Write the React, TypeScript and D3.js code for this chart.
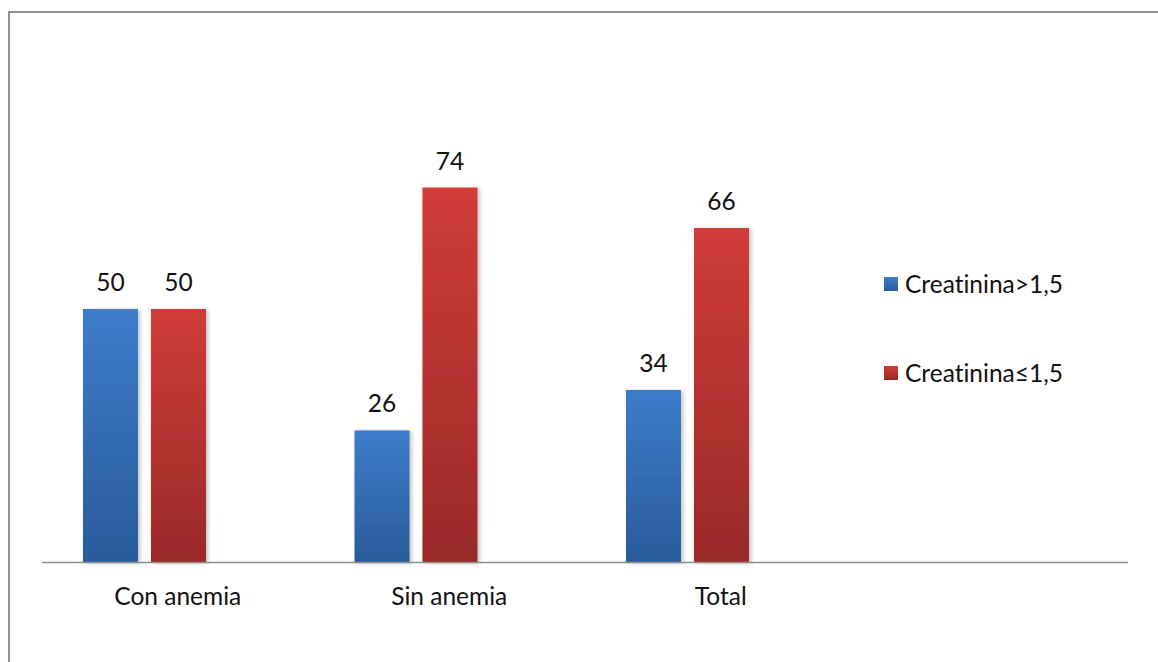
import React, { useEffect, useRef } from "react";
import * as d3 from "d3";

const W = 1158;
const H = 662;

const categories = ["Con anemia", "Sin anemia", "Total"];
const seriesNames = ["Creatinina>1,5", "Creatinina≤1,5"];
const mayor = [50, 26, 34];
const menor = [50, 74, 66];

const FONT = "Lato, 'Open Sans', sans-serif";
const FS = 24.5;
const BASE = 562;

const App = () => {
  const ref = useRef<SVGSVGElement>(null);

  useEffect(() => {
    const svg = d3.select(ref.current);
    svg.selectAll("*").remove();

    const rows = categories.map((c, i) => ({ cat: c, vals: [mayor[i], menor[i]] }));

    const defs = svg.append("defs");
    const grads = [
      { id: "gBlue", top: "#3d7cca", bottom: "#2a5b9a" },
      { id: "gRed", top: "#d03c38", bottom: "#992a28" },
    ];
    grads.forEach((g) => {
      const lg = defs
        .append("linearGradient")
        .attr("id", g.id)
        .attr("x1", 0)
        .attr("y1", 0)
        .attr("x2", 0)
        .attr("y2", 1);
      lg.append("stop").attr("offset", "0%").attr("stop-color", g.top);
      lg.append("stop").attr("offset", "100%").attr("stop-color", g.bottom);
    });
    defs
      .append("filter")
      .attr("id", "shadow")
      .attr("x", "-20%")
      .attr("y", "-10%")
      .attr("width", "150%")
      .attr("height", "130%")
      .append("feDropShadow")
      .attr("dx", 2)
      .attr("dy", 1)
      .attr("stdDeviation", 2)
      .attr("flood-color", "#000")
      .attr("flood-opacity", 0.25);

    // chart frame (top + left edges)
    svg
      .append("path")
      .attr("d", `M9,${H} V12 H${W}`)
      .attr("fill", "none")
      .attr("stroke", "#8f8f8f")
      .attr("stroke-width", 2);

    const x = d3.scaleBand().domain(categories).range([42, 856.5]);
    const inner = d3.scaleBand().domain(["0", "1"]).range([0, 123]).paddingInner(0.19);
    const y = d3.scaleLinear().domain([0, 100]).range([BASE, 56]);
    const fills = ["url(#gBlue)", "url(#gRed)"];

    const txt = (sel: any) =>
      sel
        .attr("font-family", FONT)
        .attr("font-size", FS)
        .attr("fill", "#111")
        .style("font-variant-ligatures", "none");

    const groups = svg
      .selectAll("g.grp")
      .data(rows)
      .enter()
      .append("g")
      .attr("class", "grp")
      .attr("transform", (d) => `translate(${x(d.cat)! + 41},0)`);

    groups
      .selectAll("rect")
      .data((d) => d.vals)
      .enter()
      .append("rect")
      .attr("x", (_, i) => inner(String(i))!)
      .attr("y", (v) => y(v))
      .attr("width", inner.bandwidth())
      .attr("height", (v) => BASE - y(v))
      .attr("fill", (_, i) => fills[i])
      .attr("filter", "url(#shadow)");

    groups
      .selectAll("text")
      .data((d) => d.vals)
      .enter()
      .append("text")
      .attr("x", (_, i) => inner(String(i))! + inner.bandwidth() / 2)
      .attr("y", (v) => y(v) - 18)
      .attr("text-anchor", "middle")
      .call(txt)
      .text((v) => v);

    // axis line
    svg
      .append("line")
      .attr("x1", 42)
      .attr("x2", 1128)
      .attr("y1", BASE + 0.5)
      .attr("y2", BASE + 0.5)
      .attr("stroke", "#8c8c8c")
      .attr("stroke-width", 1.5);

    svg
      .selectAll("text.cat")
      .data(categories)
      .enter()
      .append("text")
      .attr("class", "cat")
      .attr("x", (d) => x(d)! + x.bandwidth() / 2)
      .attr("y", 605)
      .attr("text-anchor", "middle")
      .call(txt)
      .text((d) => d);

    // legend
    const legend = svg
      .selectAll("g.leg")
      .data(seriesNames)
      .enter()
      .append("g")
      .attr("class", "leg")
      .attr("transform", (_, i) => `translate(884,${277 + i * 89})`);
    legend
      .append("rect")
      .attr("width", 14)
      .attr("height", 14)
      .attr("fill", (_, i) => fills[i]);
    legend
      .append("text")
      .attr("x", 21)
      .attr("y", 16)
      .call(txt)
      .text((d) => d);
  }, []);

  return (
    <svg
      ref={ref}
      width={W}
      height={H}
      style={{ position: "absolute", left: 0, top: 0, background: "#fff" }}
    />
  );
};

export default App;
